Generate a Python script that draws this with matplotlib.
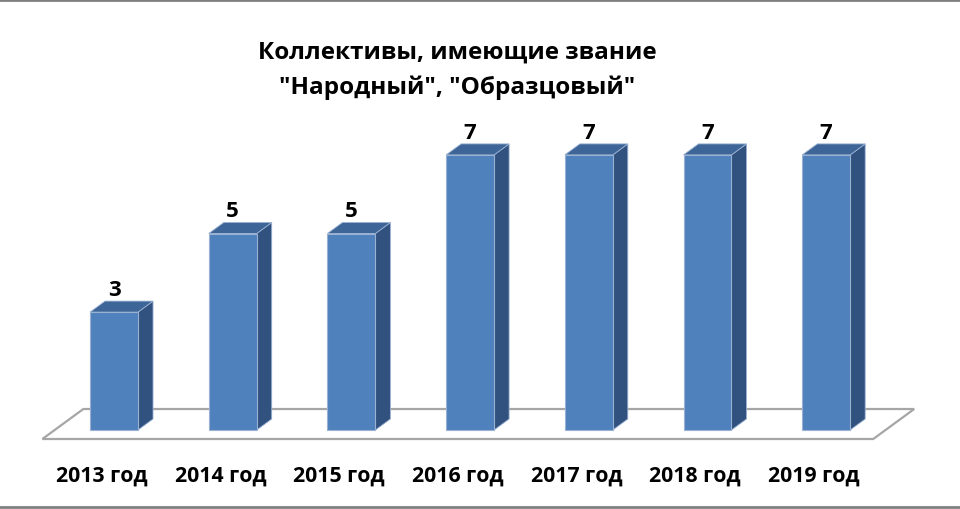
import matplotlib
matplotlib.use("Agg")
import matplotlib.pyplot as plt
from matplotlib.patches import Polygon
from matplotlib.lines import Line2D

# chart data
years = ["2013 год", "2014 год", "2015 год", "2016 год", "2017 год", "2018 год", "2019 год"]
counts = [3, 5, 5, 7, 7, 7, 7]
title = 'Коллективы, имеющие звание\n"Народный", "Образцовый"'

# colours
front_col = "#4F81BD"
side_col = "#31527F"
top_col = "#3D6597"
edge_col = "#9AB1D2"
floor_col = "#A6A6A6"

# 3D look: depth vector of the floor in (category, value) units
depth_x, depth_y = 0.345, 0.763
bar_front, bar_back = 0.30, 0.667   # depth position of bar faces
bar_half = 0.202

plt.rcParams['font.family'] = ['Open Sans', 'DejaVu Sans']

fig = plt.figure(figsize=(9.6, 5.1), dpi=100)
ax = fig.add_axes([0, 0, 1, 1])
ax.set_xlim(-0.857, 7.231)
ax.set_ylim(-1.781, 11.196)
ax.axis("off")

n = len(counts)

# floor
floor = [(-0.5, 0), (n - 0.5, 0),
         (n - 0.5 + depth_x, depth_y), (-0.5 + depth_x, depth_y)]
ax.add_patch(Polygon(floor, closed=True, facecolor="white",
                     edgecolor=floor_col, linewidth=1.6, zorder=1))

fx, fy = bar_front * depth_x, bar_front * depth_y
bx, by = bar_back * depth_x, bar_back * depth_y
dx, dy = bx - fx, by - fy

for i, v in enumerate(counts):
    x0 = i + fx - bar_half
    x1 = i + fx + bar_half
    y0 = fy
    y1 = fy + v
    front = [(x0, y0), (x1, y0), (x1, y1), (x0, y1)]
    side = [(x1, y0), (x1 + dx, y0 + dy), (x1 + dx, y1 + dy), (x1, y1)]
    top = [(x0, y1), (x1, y1), (x1 + dx, y1 + dy), (x0 + dx, y1 + dy)]
    ax.add_patch(Polygon(side, closed=True, facecolor=side_col,
                         edgecolor=edge_col, linewidth=0.6, zorder=2))
    ax.add_patch(Polygon(top, closed=True, facecolor=top_col,
                         edgecolor=edge_col, linewidth=0.6, zorder=2))
    ax.add_patch(Polygon(front, closed=True, facecolor=front_col,
                         edgecolor=edge_col, linewidth=0.8, zorder=3))
    ax.text(i + fx, y1 + dy + 0.16, str(v), ha="center", va="baseline",
            fontsize=16, fontweight="bold", color="black")
    ax.text(i, -1.07, years[i], ha="center", va="baseline",
            fontsize=15.3, fontweight="bold", color="black")

fig.text(0.476, 0.862, title, ha="center", va="center", fontsize=17.5,
         fontweight="bold", linespacing=1.6)

# grey frame lines top and bottom
fig.add_artist(Line2D([0, 1], [1 - 1.2 / 510, 1 - 1.2 / 510],
                      color="#808080", linewidth=2, transform=fig.transFigure))
fig.add_artist(Line2D([0, 1], [2.2 / 510, 2.2 / 510],
                      color="#808080", linewidth=2, transform=fig.transFigure))

fig.savefig("out.png", dpi=100, facecolor="white")
